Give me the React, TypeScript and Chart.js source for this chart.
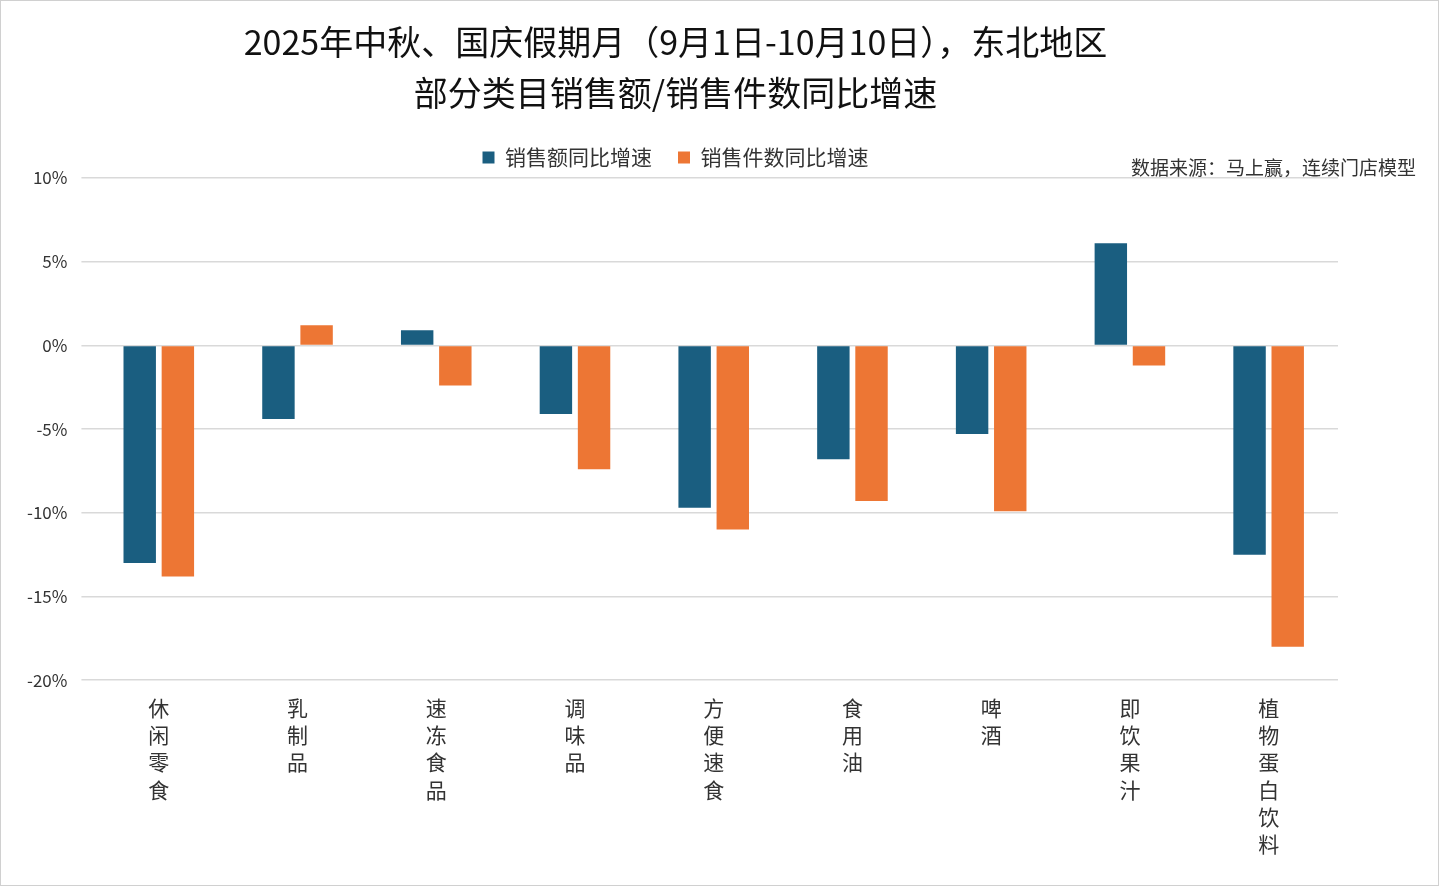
import React, { useEffect, useRef } from "react";
import { Chart, registerables } from "chart.js";
Chart.register(...registerables);

const categories = ["休闲零食", "乳制品", "速冻食品", "调味品", "方便速食", "食用油", "啤酒", "即饮果汁", "植物蛋白饮料"];
const salesGrowth = [-13.0, -4.4, 0.9, -4.1, -9.7, -6.8, -5.3, 6.1, -12.5];
const unitsGrowth = [-13.8, 1.2, -2.4, -7.4, -11.0, -9.3, -9.9, -1.2, -18.0];
const seriesNames = ["销售额同比增速", "销售件数同比增速"];
const titleLines = ["2025年中秋、国庆假期月（9月1日-10月10日），东北地区", "部分类目销售额/销售件数同比增速"];
const sourceText = "数据来源：马上赢，连续门店模型";

const FONT = "'Noto Sans CJK SC', 'Noto Sans', sans-serif";

export default function App() {
  const ref = useRef<HTMLCanvasElement>(null);
  useEffect(() => {
    const sourcePlugin = {
      id: "source",
      afterDraw(chart: any) {
        const ctx = chart.ctx;
        ctx.save();
        ctx.font = `19px ${FONT}`;
        ctx.fillStyle = "#333";
        ctx.textAlign = "right";
        ctx.textBaseline = "middle";
        ctx.fillText(sourceText, 1415, 167);
        ctx.restore();
      },
    };
    const chart = new Chart(ref.current!, {
      type: "bar",
      data: {
        labels: categories.map((c) => c.split("")),
        datasets: [
          { label: seriesNames[0], data: salesGrowth, backgroundColor: "#1A5E80", categoryPercentage: 0.55, barPercentage: 0.85 },
          { label: seriesNames[1], data: unitsGrowth, backgroundColor: "#ED7634", categoryPercentage: 0.55, barPercentage: 0.85 },
        ],
      },
      options: {
        animation: false,
        responsive: false,
        layout: { padding: { left: 12, right: 100, top: 0, bottom: 21 } },
        plugins: {
          title: {
            display: true,
            text: titleLines,
            font: { family: FONT, size: 34, weight: "normal", lineHeight: 1.5 },
            color: "#111",
            padding: { top: 16, bottom: 2 },
          },
          legend: {
            display: true,
            labels: { font: { family: FONT, size: 21 }, color: "#333", boxWidth: 12, boxHeight: 12, padding: 26 },
          },
          tooltip: { enabled: false },
        },
        scales: {
          x: {
            grid: { display: false },
            border: { display: false },
            ticks: { font: { family: FONT, size: 21, lineHeight: 1.3 }, color: "#333", maxRotation: 0, padding: 6 },
          },
          y: {
            min: -20,
            max: 10,
            ticks: { stepSize: 5, callback: (v: any) => v + "%", font: { family: FONT, size: 17 }, color: "#333", padding: 14 },
            grid: { color: "#d9d9d9", lineWidth: 1.5 },
            border: { display: false },
          },
        },
      },
      plugins: [sourcePlugin],
    });
    return () => chart.destroy();
  }, []);
  return (
    <div style={{ position: "fixed", left: 0, top: 0, width: 1439, height: 886, background: "#fff", boxSizing: "border-box", border: "1px solid #d0d0d0" }}>
      <canvas ref={ref} width={1437} height={884} />
    </div>
  );
}
